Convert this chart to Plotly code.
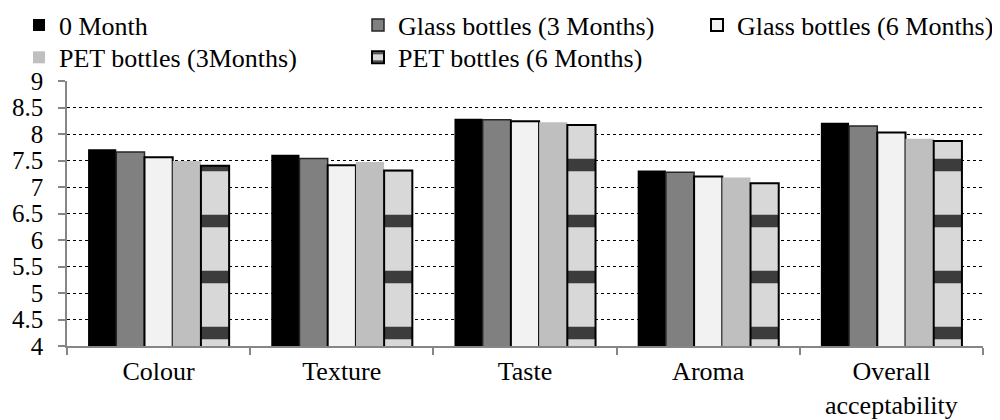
import plotly.graph_objects as go

categories = ["Colour", "Texture", "Taste", "Aroma", "Overall<br>acceptability"]
series_names = ["0 Month", "Glass bottles (3 Months)", "Glass bottles (6 Months)",
                "PET bottles (3Months)", "PET bottles (6 Months)"]
month0 = [7.71, 7.61, 8.29, 7.31, 8.21]
glass3 = [7.66, 7.54, 8.27, 7.28, 8.15]
glass6 = [7.56, 7.41, 8.24, 7.20, 8.03]
pet3 = [7.49, 7.47, 8.22, 7.18, 7.91]
pet6 = [7.40, 7.31, 8.17, 7.07, 7.87]
y_ticks = [4, 4.5, 5, 5.5, 6, 6.5, 7, 7.5, 8, 8.5, 9]

FONT = "Liberation Serif, Times New Roman, serif"
GRAY = "#868686"

fig = go.Figure()
styles = [
    dict(y=month0, color="#000000", line=dict(color="#000000", width=0), legend="legend", lw=294),
    dict(y=glass3, color="#808080", line=dict(color="#262626", width=1.5), legend="legend", lw=294),
    dict(y=glass6, color="#f2f2f2", line=dict(color="#000000", width=2), legend="legend", lw=255),
    dict(y=pet3, color="#bfbfbf", line=dict(color="#bfbfbf", width=0), legend="legend2", lw=294),
    dict(y=pet6, color="#d4d4d4", line=dict(color="#000000", width=2), legend="legend2", lw=250),
]
for i, (name, s) in enumerate(zip(series_names, styles)):
    marker = dict(color=s["color"], line=s["line"])
    if i == 4:
        marker["pattern"] = dict(shape="-", fgcolor="#3c3c3c", bgcolor="#d8d8d8",
                                 size=56, solidity=0.22, fillmode="replace")
    fig.add_trace(go.Bar(x=categories, y=s["y"], name=name, marker=marker,
                         legend=s["legend"], legendwidth=s["lw"]))

legend_common = dict(orientation="h", xref="paper", yref="paper", x=-0.0524,
                     xanchor="left", yanchor="top", bgcolor="rgba(0,0,0,0)",
                     font=dict(family=FONT, size=26, color="#000"),
                     itemclick=False, itemdoubleclick=False)

# the page body keeps an 8px margin, so the figure is 992x412 to fill the 1000x420 window
fig.update_layout(
    template="none",
    width=992, height=412,
    margin=dict(l=59, r=17, t=73, b=74, autoexpand=False),
    paper_bgcolor="white", plot_bgcolor="white",
    barmode="group", bargap=0.23, bargroupgap=0,
    font=dict(family=FONT, color="#000"),
    legend=dict(y=1.2997, **legend_common),
    legend2=dict(y=1.1777, **legend_common),
    xaxis=dict(showline=True, linecolor=GRAY, linewidth=1.5, ticks="outside",
               tickson="boundaries", ticklen=7, tickcolor=GRAY, tickwidth=1.5,
               tickfont=dict(family=FONT, size=26, color="#000"), showgrid=False,
               ticklabelstandoff=1),
    yaxis=dict(range=[4, 9], tickvals=y_ticks, showline=True, linecolor=GRAY, linewidth=1.5,
               ticks="outside", ticklen=7, tickcolor=GRAY, tickwidth=1.5,
               tickfont=dict(family=FONT, size=25, color="#000"),
               showgrid=True, gridcolor="#000000", griddash="dot", gridwidth=1.2,
               zeroline=False, ticklabelstandoff=10),
)

fig.write_html("out.html")
